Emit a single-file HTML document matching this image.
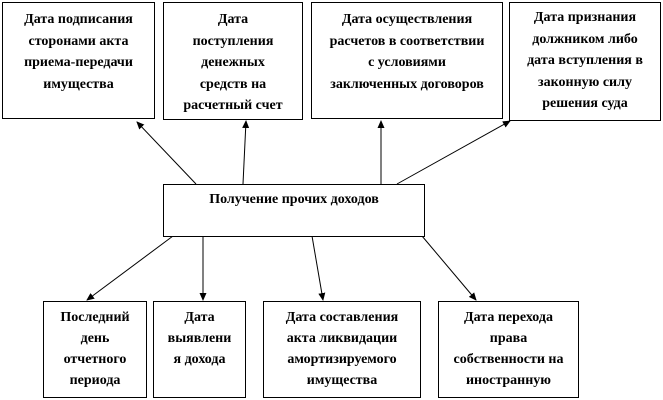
<!DOCTYPE html>
<html style="margin:0;width:663px;height:400px;overflow:hidden"><head><meta charset="utf-8"><style>
body{margin:0;width:663px;height:400px;background:#fff;position:relative;overflow:hidden;font-family:"Liberation Serif","Times New Roman","DejaVu Serif",serif;}
.b{position:absolute;border:1.3px solid #000;box-sizing:border-box;background:#fff;text-align:center;font-weight:bold;font-size:14px;line-height:21.5px;letter-spacing:0;padding-top:6px;white-space:nowrap;}
.lo{line-height:21px;padding-top:5px}
svg{position:absolute;left:0;top:0}
</style></head><body>
<svg width="663" height="400">
<defs><marker id="a" markerWidth="8" markerHeight="8" refX="7" refY="4" orient="auto" markerUnits="userSpaceOnUse"><path d="M0,0.5 L8,4 L0,7.5z" fill="#000"/></marker></defs>
<g stroke="#000" stroke-width="1" marker-end="url(#a)">
<line x1="196" y1="184" x2="137" y2="122"/>
<line x1="243" y1="184" x2="246" y2="121"/>
<line x1="381" y1="184" x2="381" y2="121"/>
<line x1="397" y1="184" x2="510" y2="121"/>
<line x1="173" y1="236" x2="87" y2="300"/>
<line x1="203" y1="236" x2="203" y2="300"/>
<line x1="312" y1="236" x2="323" y2="300"/>
<line x1="422" y1="236" x2="476" y2="300"/>
</g></svg>
<div class="b" style="left:2px;top:2px;width:153px;height:117px">Дата подписания<br>сторонами акта<br>приема-передачи<br>имущества</div>
<div class="b" style="left:163px;top:2px;width:140px;height:118px">Дата<br>поступления<br>денежных<br>средств на<br>расчетный счет</div>
<div class="b" style="left:311px;top:2px;width:192px;height:117px">Дата осуществления<br>расчетов в соответствии<br>с условиями<br>заключенных договоров</div>
<div class="b" style="left:509px;top:2px;width:152px;height:119px;padding-top:4px">Дата признания<br>должником либо<br>дата вступления в<br>законную силу<br>решения суда</div>
<div class="b" style="left:163px;top:184px;width:262px;height:53px;padding-top:4px">Получение прочих доходов</div>
<div class="b lo" style="left:43px;top:301px;width:104px;height:97px">Последний<br>день<br>отчетного<br>периода</div>
<div class="b lo" style="left:153px;top:301px;width:93px;height:97px">Дата<br>выявлени<br>я дохода</div>
<div class="b lo" style="left:263px;top:301px;width:158px;height:97px">Дата составления<br>акта ликвидации<br>амортизируемого<br>имущества</div>
<div class="b lo" style="left:438px;top:301px;width:141px;height:97px">Дата перехода<br>права<br>собственности на<br>иностранную</div>
</body></html>
